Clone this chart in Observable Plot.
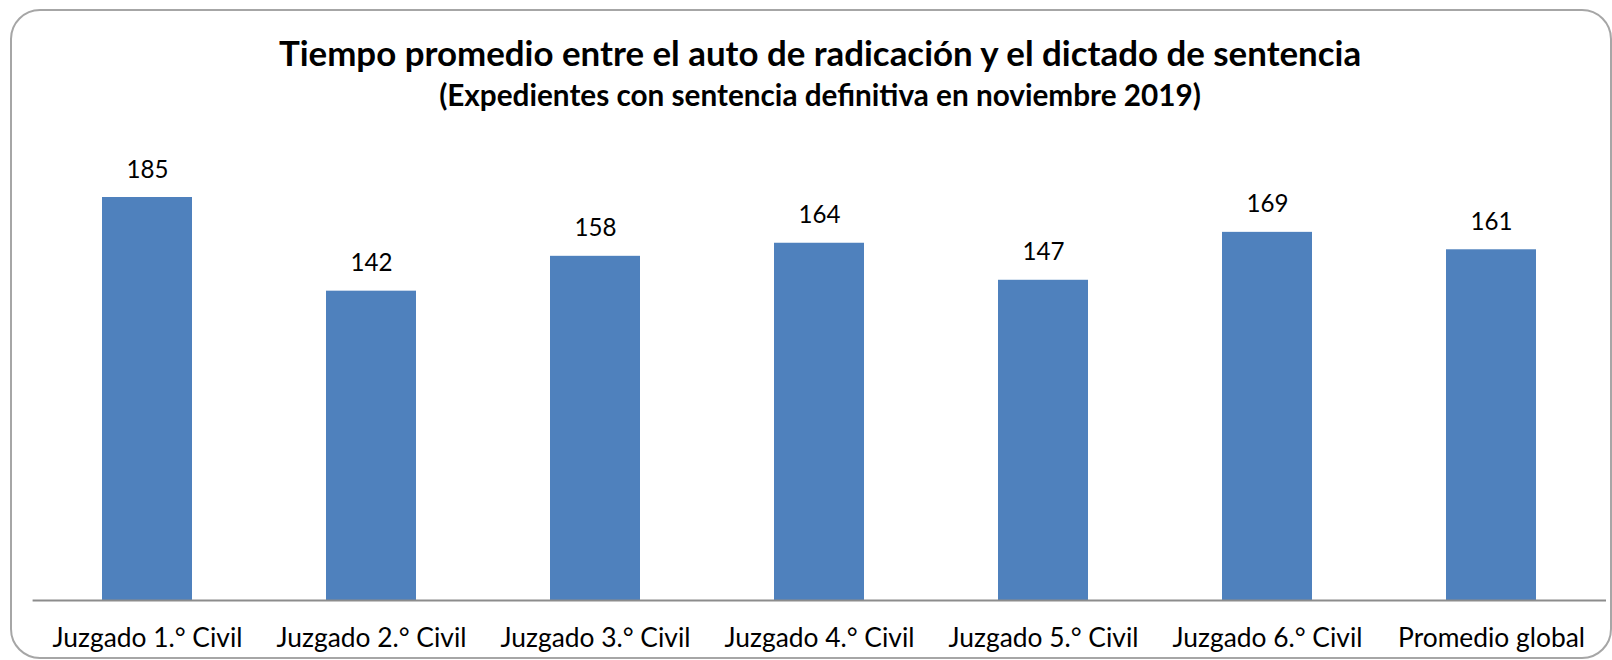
<!DOCTYPE html>
<html><head><meta charset="utf-8">
<script src="https://cdn.jsdelivr.net/npm/d3@7"></script>
<script src="https://cdn.jsdelivr.net/npm/@observablehq/plot@0.6"></script>
<style>
html,body{margin:0;padding:0;background:#fff;}
#wrap{position:relative;width:1612px;height:660px;overflow:hidden;font-family:Lato,sans-serif;color:#000;}
#frame{position:absolute;left:10px;top:9px;width:1602px;height:650px;box-sizing:border-box;border:2px solid #a6a6a6;border-radius:30px;pointer-events:none;}
.ttl{position:absolute;left:0;width:1640px;text-align:center;font-weight:700;white-space:nowrap;line-height:1.2;}
#chart{position:absolute;left:0;top:120px;}
</style>
</head><body>
<div id="wrap">
  <div id="title" class="ttl"></div>
  <div id="subtitle" class="ttl"></div>
  <div id="chart"></div>
  <div id="frame"></div>
</div>
<script>
const titleText = "Tiempo promedio entre el auto de radicación y el dictado de sentencia";
const subtitleText = "(Expedientes con sentencia definitiva en noviembre 2019)";
const categories = ["Juzgado 1.° Civil", "Juzgado 2.° Civil", "Juzgado 3.° Civil", "Juzgado 4.° Civil", "Juzgado 5.° Civil", "Juzgado 6.° Civil", "Promedio global"];
const values = [185, 142, 158, 164, 147, 169, 161];

const data = categories.map((c, i) => ({category: c, value: values[i]}));

const ctx = document.createElement("canvas").getContext("2d");
function fit(text, weight, target) {
  ctx.font = `${weight} 100px Lato`;
  return 100 * target / ctx.measureText(text).width;
}

const titleFs = fit(titleText, 700, 1084);
const subFs = fit(subtitleText, 700, 762);
const axisFs = fit("Juzgado 1.° Civil", 400, 190);
const valFs = fit("185", 400, 42);

const ASC = 0.987;
const t = document.getElementById("title");
t.textContent = titleText;
t.style.fontSize = titleFs + "px";
t.style.top = (66 - ASC * titleFs) + "px";
const s = document.getElementById("subtitle");
s.textContent = subtitleText;
s.style.fontSize = subFs + "px";
s.style.top = (106 - ASC * subFs) + "px";

const svgTop = 120;
const svgH = 540;
const baseY = 600 - svgTop;
const marginBottom = svgH - baseY;
const pxPerUnit = 403 / 185;
const yMax = 200;
const marginTop = baseY - yMax * pxPerUnit;

const chart = Plot.plot({
  width: 1612,
  height: svgH,
  marginLeft: 32.6,
  marginRight: 6,
  marginTop: marginTop,
  marginBottom: marginBottom,
  style: {fontFamily: "Lato, sans-serif", fontSize: axisFs + "px", color: "#000", background: "transparent", overflow: "visible"},
  x: {domain: categories, paddingInner: 0.6, paddingOuter: 0.3, label: null, tickSize: 0, tickPadding: (646 - 600) - 0.71 * axisFs},
  y: {domain: [0, yMax], axis: null},
  marks: [
    Plot.barY(data, {x: "category", y: "value", fill: "#4f81bd"}),
    Plot.ruleY([0], {stroke: "#8c8c8c", strokeWidth: 2}),
    Plot.text(data, {x: "category", y: "value", text: d => String(d.value), lineAnchor: "bottom", dy: -20, fontSize: valFs, fill: "#000"})
  ]
});
document.getElementById("chart").appendChild(chart);
</script>
</body></html>
